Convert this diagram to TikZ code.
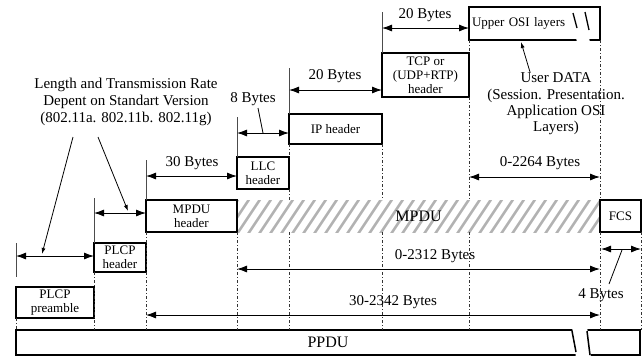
\documentclass[tikz,border=0pt]{standalone}
\usepackage{fontspec}
\setmainfont{Liberation Serif}
\usetikzlibrary{arrows.meta}
\begin{document}
\begin{tikzpicture}[x=1pt,y=-1pt,
  box/.style={draw,line width=2.3pt,inner sep=0pt,align=center,font=\fontsize{13}{14}\selectfont},
  big/.style={inner sep=0pt,font=\fontsize{16}{18}\selectfont},
  lbl/.style={inner sep=0pt,align=center,font=\fontsize{15}{17}\selectfont},
  dim/.style={line width=0.9pt,{Latex[length=10pt,width=7pt]}-{Latex[length=10pt,width=7pt]}},
  tick/.style={line width=0.8pt,black!70},
  dd/.style={line width=0.6pt,black!80,dash pattern=on 3pt off 2pt on 1pt off 2pt},
  lead/.style={line width=0.8pt,-{Latex[length=6pt,width=4pt]}},
  plain/.style={line width=0.8pt}
]
\useasboundingbox (0,0) rectangle (643,360);

% hatched MPDU region
\begin{scope}
\clip (237,200) rectangle (600,232);
\foreach \x in {215,226,...,620} \draw[gray!60,line width=2.6pt] (\x,234) -- (\x+24,198);
\end{scope}
\node[big,minimum width=363pt,minimum height=32pt] (mpdu) at (418.5,216) {MPDU};

% boxes
\node[box,minimum width=78pt,minimum height=31pt] (pre) at (55,302.5) {PLCP\\preamble};
\node[box,minimum width=52pt,minimum height=29pt] (plcph) at (120,257.5) {PLCP\\header};
\node[box,minimum width=91pt,minimum height=32pt] (mpduh) at (191.5,216) {MPDU\\header};
\node[box,minimum width=52pt,minimum height=32pt] (llc) at (263,173) {LLC\\header};
\node[box,minimum width=93pt,minimum height=30pt] (ip) at (335.5,129) {IP header};
\node[box,minimum width=87pt,minimum height=44pt] (tcp) at (425.5,75) {TCP or\\(UDP+RTP)\\header};
\node[box,minimum width=131pt,minimum height=33pt,text width=125pt,align=left,inner xsep=3pt] (upper) at (534.5,23.5) {Upper OSI layers};
\node[box,minimum width=41pt,minimum height=32pt] (fcs) at (620.5,216) {FCS};
\node[draw,line width=2.3pt,minimum width=624pt,minimum height=25pt,big] (ppdu) at (328,342.5) {PPDU};

% break marks
\fill[white] (576,37) -- (589,37) -- (590,43) -- (577,43) -- cycle;
\draw[line width=1.3pt] (573,13) -- (577,28);
\draw[line width=1.3pt] (585,12) -- (589,30);
\fill[white] (572,326) -- (587,326) -- (591,358) -- (576,358) -- cycle;
\draw[line width=1.5pt] (572,331) -- (576,352);
\draw[line width=1.5pt] (587,331) -- (590,355);

% dash-dot guide lines
\draw[dd] (16,318) -- (16,330);
\draw[dd] (94,272) -- (94,330);
\draw[dd] (146,232) -- (146,330);
\draw[dd] (237,232) -- (237,330);
\draw[dd] (289,144) -- (289,157);
\draw[dd] (289,189) -- (289,200);
\draw[dd] (289,232) -- (289,330);
\draw[dd] (382,144) -- (382,200);
\draw[dd] (382,232) -- (382,330);
\draw[dd] (469,40) -- (469,53);
\draw[dd] (469,97) -- (469,200);
\draw[dd] (469,232) -- (469,330);
\draw[dd] (600,40) -- (600,200);
\draw[dd] (600,232) -- (600,330);
\draw[dd] (641,232) -- (641,330);

% extension ticks
\draw[tick] (16,243) -- (16,277);
\draw[tick] (94,198) -- (94,243);
\draw[tick] (146,160) -- (146,200);
\draw[tick] (237,117) -- (237,157);
\draw[tick] (289,68) -- (289,114);
\draw[tick] (382,12) -- (382,53);

% dimension coordinates
\coordinate (d1a) at (16,256);   \coordinate (d1b) at (94,256);
\coordinate (d2a) at (94,213);   \coordinate (d2b) at (146,213);
\coordinate (d3a) at (146,176);  \coordinate (d3b) at (237,176);
\coordinate (d4a) at (237,133);  \coordinate (d4b) at (289,133);
\coordinate (d5a) at (289,90);   \coordinate (d5b) at (382,90);
\coordinate (d6a) at (382,28);   \coordinate (d6b) at (469,28);
\coordinate (d7a) at (469,177);  \coordinate (d7b) at (600,177);
\coordinate (d8a) at (237,269);  \coordinate (d8b) at (600,269);
\coordinate (d9a) at (146,315);  \coordinate (d9b) at (600,315);
\coordinate (d10a) at (601,249); \coordinate (d10b) at (641,249);

\draw[dim] (d1a) -- (d1b);
\draw[dim] (d2a) -- (d2b);
\draw[dim] (d3a) -- (d3b);
\draw[dim] (d4a) -- (d4b);
\draw[dim] (d5a) -- (d5b);
\draw[dim] (d6a) -- (d6b);
\draw[dim] (d7a) -- (d7b);
\draw[dim] (d8a) -- (d8b);
\draw[dim] (d9a) -- (d9b);
\draw[dim] (d10a) -- (d10b);

% dimension labels
\node[lbl] (l3) at (192,163) {30 Bytes};
\node[lbl] (l4) at (253,99) {8 Bytes};
\node[lbl] (l5) at (335,76) {20 Bytes};
\node[lbl] (l6) at (425,15) {20 Bytes};
\node[lbl] (l7) at (540,163) {0-2264 Bytes};
\node[lbl] (l8) at (435,256) {0-2312 Bytes};
\node[lbl] (l9) at (393,302) {30-2342 Bytes};
\node[lbl] (l10) at (601,295) {4 Bytes};

\coordinate (m4) at (263,133);
\coordinate (m10) at (622,250);
\coordinate (n4) at (258,108);
\coordinate (n10) at (609,284);
\draw[plain] (n4) -- (m4);
\draw[plain] (n10) -- (m10);

% explanatory texts
\node[lbl] (std) at (126,102) {Length and Transmission Rate\\Depent on Standart Version\\(802.11a. 802.11b. 802.11g)};
\coordinate (s1) at (73,137);
\coordinate (s2) at (98,137);
\coordinate (t1) at (42,254);
\coordinate (t2) at (128,211);
\draw[lead] (s1) -- (t1);
\draw[lead] (s2) -- (t2);

\node[lbl,font=\fontsize{15}{16.3}\selectfont] (user) at (556,104) {User DATA\\(Session. Presentation.\\Application OSI\\Layers)};
\coordinate (u1) at (530,72);
\coordinate (u2) at (521,42);
\draw[lead] (u1) -- (u2);
\end{tikzpicture}
\end{document}
